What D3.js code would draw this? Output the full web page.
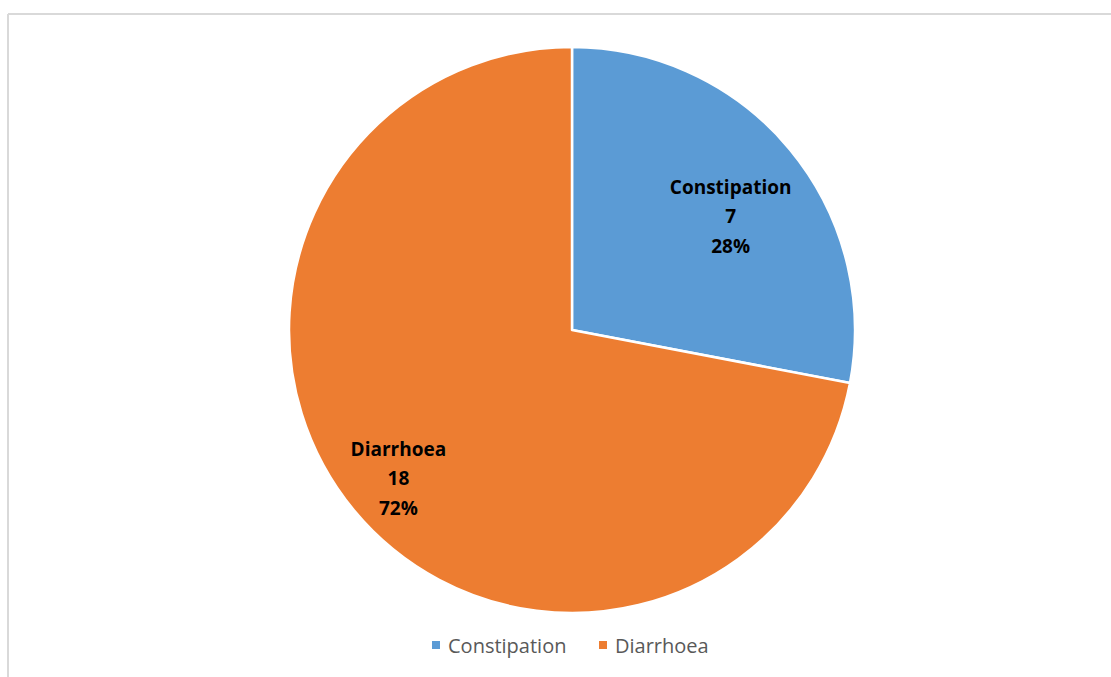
<!DOCTYPE html>
<html>
<head>
<meta charset="utf-8">
<script src="https://cdn.jsdelivr.net/npm/d3@7"></script>
<style>
  body { margin: 0; background: white; }
</style>
</head>
<body>
<div id="container"></div>
<script>
let w = 1111;
let h = 677;

// data
let categories = ["Constipation", "Diarrhoea"];
let counts = [7, 18];
let percentLabels = ["28%", "72%"];
let colors = ["#5B9BD5", "#ED7D31"];

let viz = d3.select("#container").append("svg")
              .attr("width", w)
              .attr("height", h)
              .style("display", "block")
;

// chart frame (only top and left edges show)
viz.append("line")
      .attr("x1", 8).attr("y1", 14).attr("x2", w).attr("y2", 14)
      .attr("stroke", "#d9d9d9").attr("stroke-width", 2);
viz.append("line")
      .attr("x1", 8).attr("y1", 14).attr("x2", 8).attr("y2", h)
      .attr("stroke", "#d9d9d9").attr("stroke-width", 2);

let cx = 572;
let cy = 330;
let r = 283;

let pieData = categories.map(function(c, i){
  return {name: c, value: counts[i], pct: percentLabels[i], color: colors[i]};
});

let pie = d3.pie().value(d=>d.value).sort(null);
let arc = d3.arc().innerRadius(0).outerRadius(r);

let g = viz.append("g").attr("transform", "translate(" + cx + "," + cy + ")");

let slices = g.selectAll(".slice").data(pie(pieData)).enter()
                .append("path")
                .attr("class", "slice")
                .attr("d", arc)
                .attr("fill", d=>d.data.color)
                .attr("stroke", "white")
                .attr("stroke-width", 2.5)
                .attr("stroke-linejoin", "round")
;

// label radius differs a bit per slice (Excel best-fit placement)
let labelFactor = [0.7, 0.81];
let labelNudge = [[6, 10], [3, 0]];
let labels = g.selectAll(".lbl").data(pie(pieData)).enter()
                .append("text")
                .attr("class", "lbl")
                .attr("transform", function(d, i){
                  let la = d3.arc().innerRadius(r*labelFactor[i]).outerRadius(r*labelFactor[i]);
                  let c = la.centroid(d);
                  return "translate(" + (c[0] + labelNudge[i][0]) + "," + (c[1] + labelNudge[i][1]) + ")";
                })
                .attr("text-anchor", "middle")
                .attr("font-family", "'Open Sans', sans-serif")
                .attr("font-weight", "bold")
                .attr("font-size", 19)
                .attr("fill", "black")
;
labels.append("tspan").attr("x", 0).attr("y", -20).text(d=>d.data.name);
labels.append("tspan").attr("x", 0).attr("y", 9).text(d=>d.data.value);
labels.append("tspan").attr("x", 0).attr("y", 39).text(d=>d.data.pct);

// legend
let legendX = [432, 599];
let legend = viz.selectAll(".legend").data(pieData).enter()
                .append("g")
                .attr("class", "legend")
                .attr("transform", (d, i)=>"translate(" + legendX[i] + ",641)");
legend.append("rect")
        .attr("width", 8).attr("height", 8)
        .attr("fill", d=>d.color);
legend.append("text")
        .attr("x", 16).attr("y", 12)
        .attr("font-family", "'Open Sans', sans-serif")
        .attr("font-size", 20)
        .attr("fill", "#595959")
        .text(d=>d.name);
</script>
</body>
</html>
